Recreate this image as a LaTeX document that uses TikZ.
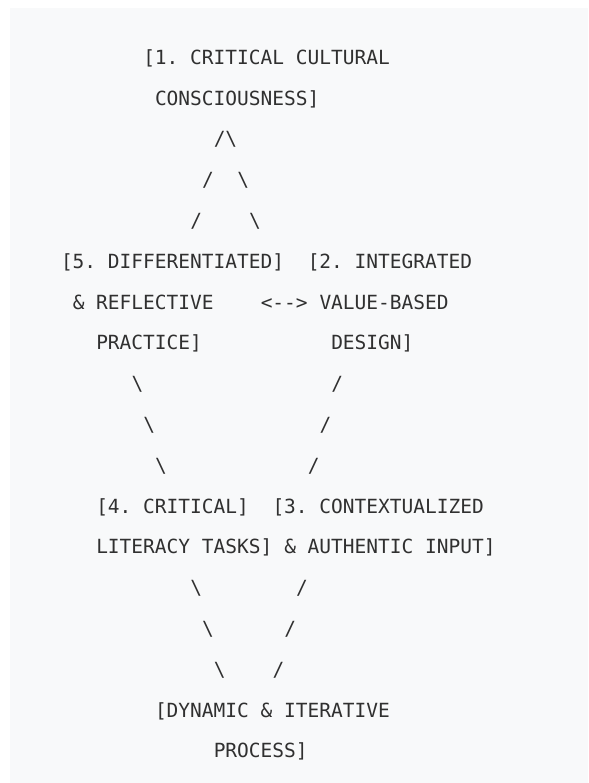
\documentclass[tikz,border=0pt]{standalone}
\usepackage{fontspec}
\setmonofont{DejaVu Sans Mono}
\usepackage{xcolor}
\usepackage{tikz}
\definecolor{panelgray}{HTML}{F8F9FA}
\definecolor{inkgray}{HTML}{303030}
\tikzset{
    asciitext/.style={anchor=base west, inner sep=0pt, outer sep=0pt, text=inkgray,
        font=\ttfamily\fontsize{19.5}{24}\selectfont\frenchspacing}
}

\begin{document}
\begin{tikzpicture}[x=11.75pt,y=-40.8pt]
    % Canvas and panel
    \useasboundingbox (-61pt,64.3pt) rectangle (527pt,-718.7pt);
    \fill[panelgray] (-51pt,56.3pt) rectangle (527pt,-718.7pt);

    % Top: critical cultural consciousness
    \node[asciitext] (ccc1) at (7,0) {[1. CRITICAL CULTURAL};
    \node[asciitext] (ccc2) at (8,1) {CONSCIOUSNESS]};
    \node[asciitext] (apex) at (13,2) {/\textbackslash};
    \foreach \c/\r in {12/3, 11/4} {
        \node[asciitext] (upl\r) at (\c,\r) {/};
    }
    \foreach \c/\r in {15/3, 16/4} {
        \node[asciitext] (upr\r) at (\c,\r) {\textbackslash};
    }

    % Middle row: practice <--> design
    \node[asciitext] (drp1) at (0,5) {[5. DIFFERENTIATED]};
    \node[asciitext] (drp2) at (1,6) {\& REFLECTIVE};
    \node[asciitext] (drp3) at (3,7) {PRACTICE]};
    \node[asciitext] (link) at (17,6) {<-{}->};
    \node[asciitext] (ivd1) at (21,5) {[2. INTEGRATED};
    \node[asciitext] (ivd2) at (22,6) {VALUE-BASED};
    \node[asciitext] (ivd3) at (23,7) {DESIGN]};
    \foreach \c/\r in {6/8, 7/9, 8/10} {
        \node[asciitext] (midl\r) at (\c,\r) {\textbackslash};
    }
    \foreach \c/\r in {23/8, 22/9, 21/10} {
        \node[asciitext] (midr\r) at (\c,\r) {/};
    }

    % Lower row: tasks and input
    \node[asciitext] (clt1) at (3,11) {[4. CRITICAL]};
    \node[asciitext] (clt2) at (3,12) {LITERACY TASKS]};
    \node[asciitext] (cai1) at (18,11) {[3. CONTEXTUALIZED};
    \node[asciitext] (cai2) at (19,12) {\& AUTHENTIC INPUT]};
    \foreach \c/\r in {11/13, 12/14, 13/15} {
        \node[asciitext] (lowl\r) at (\c,\r) {\textbackslash};
    }
    \foreach \c/\r in {20/13, 19/14, 18/15} {
        \node[asciitext] (lowr\r) at (\c,\r) {/};
    }

    % Bottom: process
    \node[asciitext] (dip1) at (8,16) {[DYNAMIC \& ITERATIVE};
    \node[asciitext] (dip2) at (13,17) {PROCESS]};
\end{tikzpicture}
\end{document}
